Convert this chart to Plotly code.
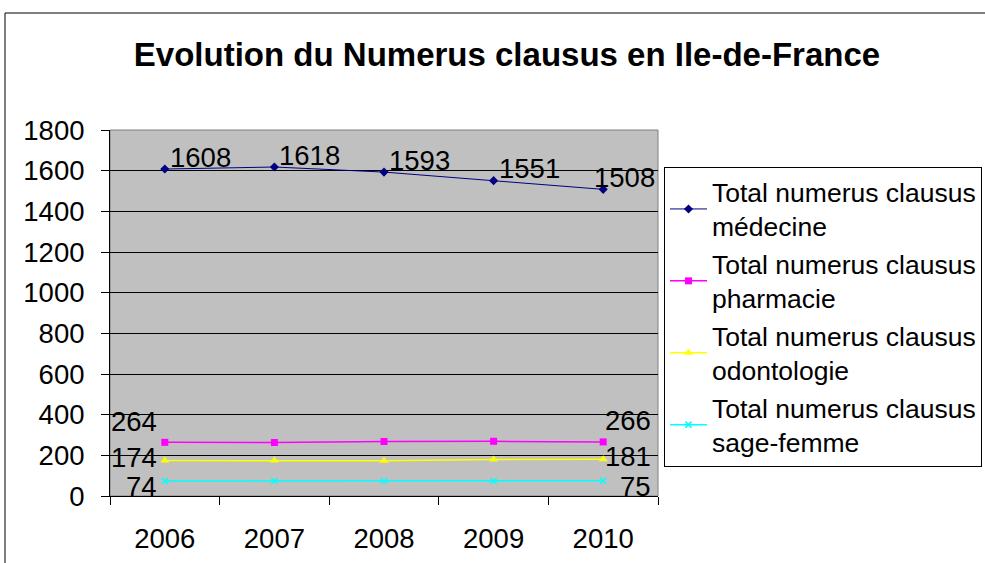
import plotly.graph_objects as go

years = ["2006", "2007", "2008", "2009", "2010"]
medecine = [1608, 1618, 1593, 1551, 1508]
pharmacie = [264, 263, 268, 269, 266]
odontologie = [174, 174, 173, 179, 181]
sage_femme = [74, 74, 74, 74, 75]
series_names = [
    "Total numerus clausus<br>médecine",
    "Total numerus clausus<br>pharmacie",
    "Total numerus clausus<br>odontologie",
    "Total numerus clausus<br>sage-femme",
]
y_ticks = [0, 200, 400, 600, 800, 1000, 1200, 1400, 1600, 1800]

FONT = "Liberation Sans, Arial, sans-serif"
FS = 27.5

fig = go.Figure()
fig.add_trace(go.Scatter(
    x=years, y=medecine, name=series_names[0], mode="lines+markers",
    line=dict(color="#000080", width=1),
    marker=dict(symbol="diamond", size=7, color="#000080"),
))
fig.add_trace(go.Scatter(
    x=years, y=pharmacie, name=series_names[1], mode="lines+markers",
    line=dict(color="#FF00FF", width=1.5),
    marker=dict(symbol="square", size=7, color="#FF00FF"),
))
fig.add_trace(go.Scatter(
    x=years, y=odontologie, name=series_names[2], mode="lines+markers",
    line=dict(color="#FFFF00", width=1.5),
    marker=dict(symbol="triangle-up", size=8, color="#FFFF00"),
))
fig.add_trace(go.Scatter(
    x=years, y=sage_femme, name=series_names[3], mode="lines+markers",
    line=dict(color="#00FFFF", width=1.5),
    marker=dict(symbol="x-thin", size=6, color="#00FFFF", line=dict(color="#00FFFF", width=1.5)),
))

# data labels (annotations anchored on the data points; x given as category index)
lbl_font = dict(family=FONT, size=FS, color="black")
annotations = []
n = len(years)
for i, v in enumerate(medecine):
    last = i == n - 1
    annotations.append(dict(x=i, y=v, xref="x", yref="y", text=str(v), showarrow=False,
                            font=lbl_font, xanchor="right" if last else "left",
                            yanchor="middle", xshift=54 if last else 3, yshift=12))
for vals, dy in ((pharmacie, 21), (odontologie, 3), (sage_femme, -6)):
    annotations.append(dict(x=0, y=vals[0], xref="x", yref="y", text=str(vals[0]),
                            showarrow=False, font=lbl_font, xanchor="right",
                            yanchor="middle", xshift=-6, yshift=dy))
    annotations.append(dict(x=n - 1, y=vals[-1], xref="x", yref="y", text=str(vals[-1]),
                            showarrow=False, font=lbl_font, xanchor="right",
                            yanchor="middle", xshift=50, yshift=dy))

fig.update_layout(
    width=985, height=563,
    margin=dict(l=110, r=327, t=130, b=67, autoexpand=False),
    paper_bgcolor="white", plot_bgcolor="#C0C0C0",
    font=dict(family=FONT, size=FS, color="black"),
    title=dict(text="<b>Evolution du Numerus clausus en Ile-de-France</b>",
               x=507 / 985, xref="container", xanchor="center",
               y=1 - 54 / 563, yref="container", yanchor="middle", font=dict(size=33)),
    showlegend=True,
    legend=dict(x=(664 - 110) / 548, xanchor="left", y=(496 - 167) / 366, yanchor="top",
                bgcolor="white", bordercolor="black", borderwidth=1,
                font=dict(size=26.5), tracegroupgap=0, itemwidth=37),
    xaxis=dict(type="category", categoryorder="array", categoryarray=years,
               range=[-0.5, 4.5],
               showgrid=False, showline=True, linecolor="black", linewidth=1,
               ticks="outside", tickson="boundaries", ticklen=8, tickcolor="black",
               ticklabelstandoff=18, zeroline=False),
    yaxis=dict(range=[0, 1800], tickvals=y_ticks, showgrid=True, gridcolor="black", gridwidth=1,
               showline=True, linecolor="black", linewidth=1,
               ticks="outside", ticklen=8, tickcolor="black",
               ticklabelstandoff=11, zeroline=False),
    annotations=annotations,
)

# plot area border (top/right grey) and outer chart border
fig.add_shape(type="rect", xref="paper", yref="paper", x0=0, x1=1, y0=0, y1=1,
              line=dict(color="#808080", width=1), layer="below")
fig.add_shape(type="rect", xref="paper", yref="paper",
              x0=(5 - 110) / 548, x1=2.0, y0=-0.5, y1=(496 - 13) / 366,
              line=dict(color="black", width=1), layer="below")

fig.write_html("out.html", config={"displayModeBar": False},
               post_script="document.body.style.margin='0px';document.body.style.padding='0px';")
